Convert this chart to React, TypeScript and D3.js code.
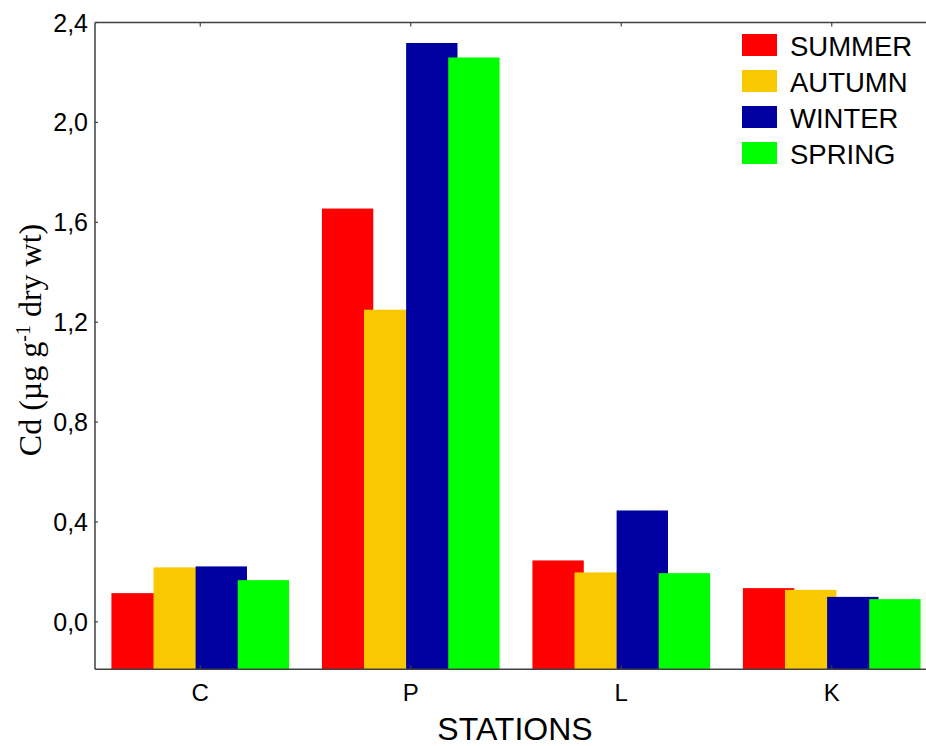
import React from "react";
import * as d3 from "d3";

const stations = ["C", "P", "L", "K"];
const seasons = ["SUMMER", "AUTUMN", "WINTER", "SPRING"];
const seasonColors = ["#FF0000", "#F8C800", "#0000A0", "#00FF00"];
const summer = [0.115, 1.655, 0.246, 0.135];
const autumn = [0.218, 1.25, 0.198, 0.128];
const winter = [0.222, 2.318, 0.446, 0.1];
const spring = [0.167, 2.26, 0.195, 0.091];
const yTicks = [0, 0.4, 0.8, 1.2, 1.6, 2.0, 2.4];

const seriesValues = [summer, autumn, winter, spring];

export default function App() {
  const W = 926, H = 746;
  const left = 95, top = 22.5, bottom = 669.3;
  const x = d3.scaleBand<string>().domain(stations).range([left, left + 4 * 210.5]).padding(0);
  const y = d3.scaleLinear().domain([-0.19, 2.4]).range([bottom, top]);
  const bw = x.bandwidth();
  const step = 0.2 * bw;
  const barW = 0.244 * bw;
  const axisColor = "#404040";
  const sans = "'Liberation Sans', Arial, sans-serif";
  const fmt = (v: number) => v.toFixed(1).replace(".", ",");

  return (
    <svg width={W} height={H} style={{ position: "absolute", left: 0, top: 0, background: "#fff" }}>
      <rect x={0} y={0} width={W} height={H} fill="#fff" />
      {seriesValues.map((vals, si) => (
        <g key={seasons[si]}>
          {stations.map((st, ci) => {
            const cx = (x(st) as number) + bw / 2;
            const bx = cx + (si - 1.5) * step - barW / 2;
            const yt = y(vals[ci]);
            return (
              <rect key={st} x={bx} y={yt} width={barW} height={y(-0.19) - yt} fill={seasonColors[si]} />
            );
          })}
        </g>
      ))}
      {/* frame */}
      <line x1={left} x2={W} y1={top} y2={top} stroke={axisColor} strokeWidth={1.5} />
      <line x1={left} x2={W} y1={bottom} y2={bottom} stroke={axisColor} strokeWidth={1.5} />
      <line x1={left} x2={left} y1={top} y2={bottom} stroke={axisColor} strokeWidth={1.5} />
      {/* y ticks */}
      {yTicks.map((t) => (
        <g key={t}>
          <line x1={left} x2={left + 3} y1={y(t)} y2={y(t)} stroke={axisColor} strokeWidth={1.2} />
          <text x={88} y={y(t)} dy="0.36em" textAnchor="end" fontFamily={sans} fontSize={25} fill="#000">
            {fmt(t)}
          </text>
        </g>
      ))}
      {/* x ticks */}
      {stations.map((st) => {
        const cx = (x(st) as number) + bw / 2;
        return (
          <g key={st}>
            <line x1={cx} x2={cx} y1={bottom} y2={bottom - 4} stroke={axisColor} strokeWidth={1.2} />
            <line x1={cx} x2={cx} y1={top} y2={top + 4} stroke={axisColor} strokeWidth={1.2} />
            <text x={cx} y={700.5} textAnchor="middle" fontFamily={sans} fontSize={24} fill="#000">
              {st}
            </text>
          </g>
        );
      })}
      {/* axis titles */}
      <text x={515} y={740} textAnchor="middle" fontFamily={sans} fontSize={32} fill="#000">
        STATIONS
      </text>
      <text
        transform={`translate(41,340) rotate(-90)`}
        textAnchor="middle"
        fontFamily="'Liberation Serif', 'Times New Roman', serif"
        fontSize={32}
        fill="#000"
      >
        Cd (µg g<tspan baselineShift="super" fontSize={20}>-1</tspan> dry wt)
      </text>
      {/* legend */}
      {seasons.map((s, i) => (
        <g key={s}>
          <rect x={742} y={34 + i * 36} width={35} height={22} fill={seasonColors[i]} />
          <text x={790} y={56 + i * 36} fontFamily={sans} fontSize={27.5} fill="#000">
            {s}
          </text>
        </g>
      ))}
    </svg>
  );
}
